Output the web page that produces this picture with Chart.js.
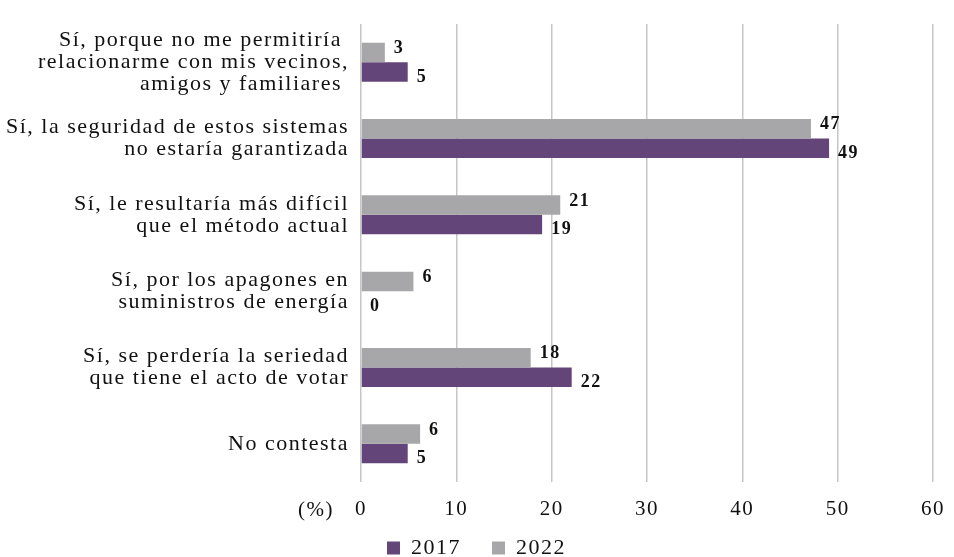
<!DOCTYPE html>
<html lang="es">
  <head>
    <meta charset="UTF-8" />
    <title>Chart</title>
    <script src="https://cdn.jsdelivr.net/npm/chart.js"></script>
    <style>
      body { margin: 0; background: #fff; }
      #wrap { width: 954px; height: 557px; }
    </style>
  </head>
  <body>
    <div id="wrap"><canvas id="chart-area"></canvas></div>
    <script>
      const categories = [
        ["Sí, porque no me permitiría ", "relacionarme con mis vecinos,", "amigos y familiares "],
        ["Sí, la seguridad de estos sistemas", "no estaría garantizada"],
        ["Sí, le resultaría más difícil", "que el método actual"],
        ["Sí, por los apagones en", "suministros de energía"],
        ["Sí, se perdería la seriedad", "que tiene el acto de votar"],
        ["No contesta"],
      ];
      const values2022 = [2.5, 47.2, 20.9, 5.5, 17.8, 6.2];
      const values2017 = [4.9, 49.1, 19.0, 0, 22.1, 4.9];
      const xTicks = [0, 10, 20, 30, 40, 50, 60];

      const purple = "#634579";
      const gray = "#a7a7aa";
      const serif = "'Liberation Serif', 'Times New Roman', serif";

      // la fuente original es mas ancha: un poco de espacio entre letras
      const spacing = {
        id: "spacing",
        beforeUpdate(chart) { chart.ctx.letterSpacing = "1.5px"; },
        beforeDraw(chart) { chart.ctx.letterSpacing = "1.5px"; },
        // leyenda un poco mas a la derecha, como en el original
        afterLayout(chart) { chart.legend.left += 20; },
      };

      // etiquetas de valor al final de cada barra
      const valueLabels = {
        id: "valueLabels",
        afterDatasetsDraw(chart) {
          const ctx = chart.ctx;
          ctx.save();
          ctx.font = "bold 18px " + serif;
          ctx.fillStyle = "#111";
          ctx.textAlign = "left";
          ctx.textBaseline = "middle";
          chart.data.datasets.forEach((ds, i) => {
            const meta = chart.getDatasetMeta(i);
            const dy = i === 0 ? -4 : 5;
            meta.data.forEach((bar, j) => {
              ctx.fillText(Math.round(ds.data[j]), bar.x + 9, bar.y + dy);
            });
          });
          ctx.restore();
        },
      };

      // "(%)" a la izquierda de las marcas del eje x
      const unitLabel = {
        id: "unitLabel",
        afterDraw(chart) {
          const ctx = chart.ctx;
          const area = chart.chartArea;
          ctx.save();
          ctx.font = "21px " + serif;
          ctx.fillStyle = "#111";
          ctx.textAlign = "right";
          ctx.textBaseline = "middle";
          ctx.fillText("(%)", area.left - 27, area.bottom + 28);
          ctx.restore();
        },
      };

      new Chart(document.getElementById("chart-area"), {
        type: "bar",
        data: {
          labels: categories,
          datasets: [
            { label: "2022", data: values2022, backgroundColor: gray },
            { label: "2017", data: values2017, backgroundColor: purple },
          ],
        },
        options: {
          indexAxis: "y",
          responsive: true,
          maintainAspectRatio: false,
          animation: false,
          layout: { padding: { top: 24, right: 21, left: 0, bottom: -12 } },
          datasets: { bar: { categoryPercentage: 0.51, barPercentage: 1 } },
          scales: {
            x: {
              min: 0,
              max: 60,
              afterBuildTicks(scale) {
                scale.ticks = xTicks.map((v) => ({ value: v }));
              },
              grid: { color: "#c6c6c6", lineWidth: 1.5, drawTicks: false },
              border: { display: false },
              ticks: { color: "#111", padding: 15, font: { family: serif, size: 21 } },
              afterFit(scale) {
                scale.height = 45;
                scale.paddingRight = 0;
              },
            },
            y: {
              grid: { display: false, drawTicks: false },
              border: { display: false },
              ticks: {
                color: "#111",
                padding: 12,
                font: { family: serif, size: 22, lineHeight: 1.0 },
              },
              afterFit(scale) { scale.width = 361; },
            },
          },
          plugins: {
            legend: {
              position: "bottom",
              reverse: true,
              labels: {
                color: "#111",
                boxWidth: 13,
                boxHeight: 13,
                padding: 10,
                font: { family: serif, size: 22 },
                generateLabels(chart) {
                  const items = Chart.defaults.plugins.legend.labels.generateLabels(chart);
                  items.forEach((item) => {
                    if (item.datasetIndex === 1) item.text += "   ";
                  });
                  return items;
                },
              },
            },
            tooltip: { enabled: false },
          },
        },
        plugins: [spacing, valueLabels, unitLabel],
      });
    </script>
  </body>
</html>
